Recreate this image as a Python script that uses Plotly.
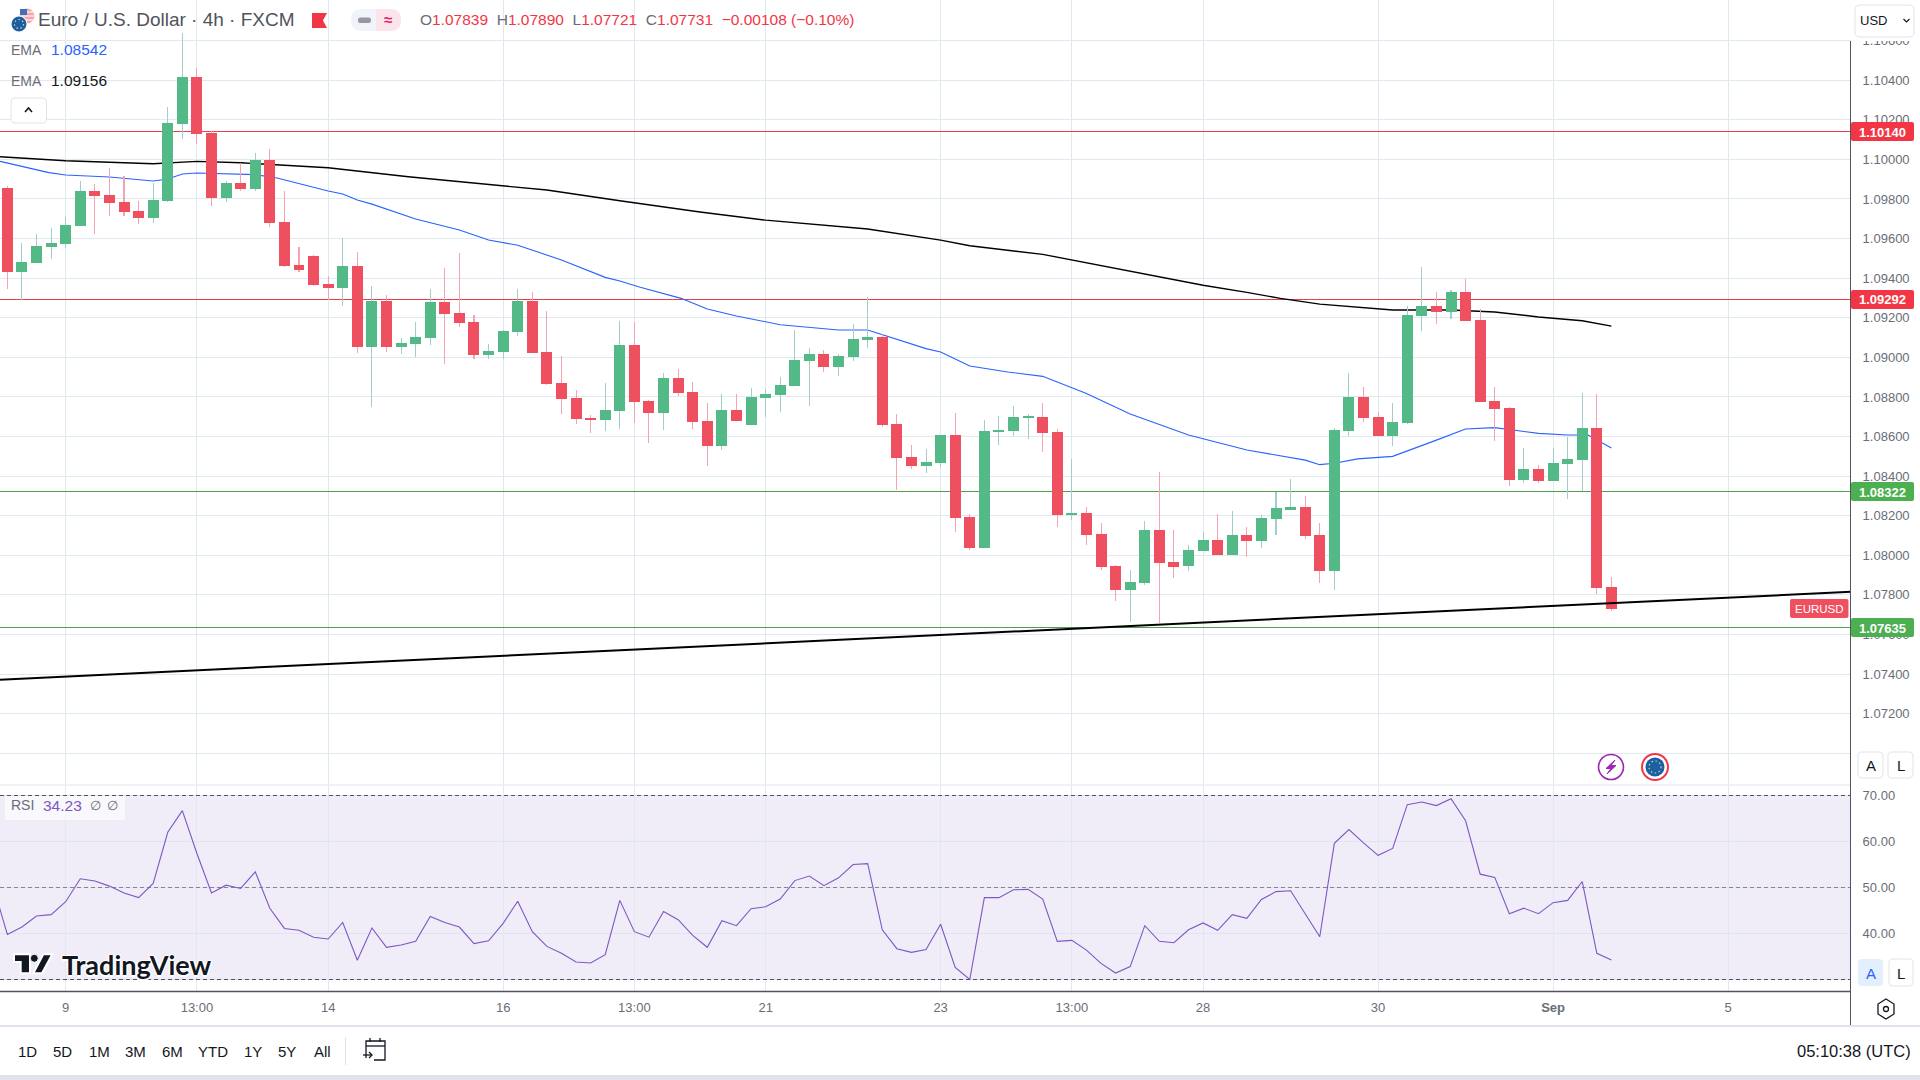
import plotly.graph_objects as go

W, H = 1920, 1080
FONT = "Liberation Sans"
RED, GREEN = "#ef5060", "#53b987"
WICK_RED, WICK_GREEN = "#f5a3b2", "#a3cdcd"
GRID = "#e0e9f0"
TXT = "#6a6d78"

opens = [1.09855,1.09431,1.09476,1.09557,1.09572,1.09663,1.09840,1.09820,1.09785,1.09739,
1.09704,1.09790,1.10178,1.10416,1.10133,1.09805,1.09880,1.09850,1.09997,1.09684,
1.09466,1.09512,1.09370,1.09350,1.09461,1.09052,1.09285,1.09052,1.09067,1.09098,
1.09279,1.09224,1.09178,1.09012,1.09027,1.09128,1.09285,1.09027,1.08870,1.08795,
1.08694,1.08684,1.08729,1.09062,1.08779,1.08719,1.08896,1.08825,1.08678,1.08552,
1.08734,1.08658,1.08795,1.08810,1.08855,1.08981,1.09017,1.08951,1.09002,1.09088,
1.09103,1.08663,1.08497,1.08451,1.08466,1.08608,1.08194,1.08037,1.08623,1.08628,
1.08694,1.08699,1.08623,1.08204,1.08214,1.08108,1.07946,1.07825,1.07860,1.08128,
1.07966,1.07946,1.08022,1.08077,1.08002,1.08103,1.08072,1.08184,1.08234,1.08244,
1.08103,1.07921,1.08628,1.08800,1.08699,1.08603,1.08668,1.09209,1.09259,1.09229,
1.09330,1.09189,1.08779,1.08744,1.08380,1.08436,1.08375,1.08461,1.08481,1.08643,1.07839]
highs = [1.09865,1.09577,1.09623,1.09653,1.09709,1.09891,1.09875,1.09956,1.09916,1.09790,
1.09880,1.10264,1.10636,1.10461,1.10143,1.09891,1.09981,1.10032,1.10052,1.09840,
1.09557,1.09517,1.09411,1.09603,1.09532,1.09360,1.09315,1.09098,1.09178,1.09345,
1.09451,1.09527,1.09214,1.09067,1.09138,1.09345,1.09330,1.09234,1.09007,1.08835,
1.08709,1.08870,1.09184,1.09178,1.08785,1.08921,1.08941,1.08875,1.08769,1.08815,
1.08815,1.08845,1.08840,1.08901,1.09138,1.09047,1.09037,1.09017,1.09168,1.09305,
1.09118,1.08714,1.08557,1.08537,1.08608,1.08719,1.08209,1.08684,1.08704,1.08754,
1.08714,1.08769,1.08638,1.08487,1.08244,1.08163,1.07951,1.07926,1.08173,1.08421,
1.08128,1.08052,1.08118,1.08209,1.08224,1.08143,1.08204,1.08320,1.08386,1.08300,
1.08163,1.08643,1.08921,1.08850,1.08724,1.08769,1.09259,1.09456,1.09330,1.09340,
1.09396,1.09244,1.08850,1.08749,1.08542,1.08456,1.08542,1.08598,1.08820,1.08815,1.07890]
lows = [1.09347,1.09290,1.09476,1.09497,1.09552,1.09663,1.09623,1.09714,1.09714,1.09673,
1.09678,1.09785,1.10103,1.10077,1.09764,1.09785,1.09840,1.09840,1.09658,1.09456,
1.09431,1.09360,1.09290,1.09259,1.09022,1.08749,1.09027,1.09017,1.09002,1.09062,
1.08966,1.09153,1.08992,1.08992,1.08992,1.09108,1.09022,1.08860,1.08714,1.08663,
1.08618,1.08628,1.08638,1.08668,1.08567,1.08633,1.08805,1.08638,1.08451,1.08532,
1.08678,1.08658,1.08699,1.08724,1.08855,1.08754,1.08926,1.08906,1.08981,1.09047,
1.08648,1.08330,1.08436,1.08416,1.08446,1.08118,1.08027,1.08037,1.08557,1.08603,
1.08588,1.08522,1.08143,1.08178,1.08052,1.07926,1.07769,1.07663,1.07850,1.07658,
1.07886,1.07921,1.08022,1.08002,1.08002,1.07992,1.08037,1.08103,1.08234,1.08083,
1.07860,1.07825,1.08603,1.08673,1.08603,1.08552,1.08663,1.09133,1.09168,1.09194,
1.09184,1.08774,1.08577,1.08350,1.08365,1.08365,1.08375,1.08285,1.08325,1.07805,1.07721]
closes = [1.09431,1.09481,1.09562,1.09577,1.09668,1.09840,1.09815,1.09779,1.09734,1.09704,
1.09795,1.10183,1.10416,1.10128,1.09805,1.09880,1.09850,1.09997,1.09678,1.09461,
1.09441,1.09365,1.09350,1.09461,1.09052,1.09285,1.09052,1.09072,1.09103,1.09279,
1.09219,1.09173,1.09012,1.09032,1.09133,1.09285,1.09022,1.08865,1.08790,1.08689,
1.08684,1.08734,1.09062,1.08774,1.08719,1.08896,1.08820,1.08673,1.08552,1.08734,
1.08678,1.08800,1.08815,1.08860,1.08987,1.09017,1.08951,1.09007,1.09093,1.09103,
1.08658,1.08492,1.08451,1.08471,1.08608,1.08189,1.08037,1.08628,1.08633,1.08699,
1.08699,1.08618,1.08204,1.08214,1.08103,1.07941,1.07825,1.07865,1.08128,1.07961,
1.07941,1.08027,1.08077,1.08002,1.08103,1.08072,1.08189,1.08239,1.08244,1.08098,
1.07921,1.08633,1.08800,1.08694,1.08603,1.08673,1.09214,1.09259,1.09229,1.09330,
1.09184,1.08774,1.08739,1.08380,1.08436,1.08375,1.08466,1.08487,1.08643,1.07835,1.07731]

ema_fast_bar = [-0.5,2.85,4,7,10,11,12,13,17,18.5,22,23,24,25,28,31,33,35,38,41,42,43.4,46.2,48,50,53,57,59,63,64,66,68.6,71,74,77,81,85,87.3,89,90,91,92.6,95,98,100,102,105,107,108.4,110]
ema_fast = [1.09990,1.09933,1.09921,1.09911,1.09891,1.09901,1.09926,1.09931,1.09923,1.09906,1.09840,1.09825,1.09795,1.09774,1.09699,1.09643,1.09593,1.09566,1.09492,1.09404,1.09386,1.09354,1.09298,1.09244,1.09209,1.09165,1.09138,1.09138,1.09044,1.09027,1.08956,1.08926,1.08904,1.08818,1.08714,1.08608,1.08532,1.08502,1.08481,1.08458,1.08465,1.08487,1.08500,1.08582,1.08638,1.08645,1.08616,1.08608,1.08608,1.08542]
ema_slow_bar = [-0.5,4,10,13,16,22,27.5,33,37,42,47.5,52,59,64,66,71,73,77.7,82,85,87.3,90,95,99,102,105,108,110]
ema_slow = [1.10013,1.09993,1.09978,1.09990,1.09983,1.09958,1.09912,1.09875,1.09845,1.09791,1.09734,1.09693,1.09648,1.09592,1.09564,1.09520,1.09491,1.09424,1.09364,1.09328,1.09298,1.09269,1.09239,1.09239,1.09229,1.09204,1.09185,1.09158]
rsi = [50.6,39.8,41.4,43.8,44.1,46.9,51.9,51.4,50.3,48.8,47.8,50.9,62.0,66.7,57.4,48.8,50.5,49.8,53.4,45.5,41.1,40.7,39.2,38.8,42.4,34.2,41.2,37.0,37.5,38.3,43.7,42.4,41.4,37.8,38.4,42.2,47.0,40.4,37.2,35.7,33.8,33.6,35.4,47.2,40.4,39.2,44.8,43.0,39.6,37.0,42.8,41.7,45.4,45.8,47.5,51.5,52.5,50.4,52.1,55.0,55.2,40.8,36.7,35.9,36.5,42.0,32.6,30.0,47.8,47.8,49.5,49.6,47.5,38.3,38.5,36.4,33.5,31.4,32.8,41.7,38.3,38.0,40.8,42.3,40.7,44.1,43.3,47.4,49.1,49.3,44.3,39.3,59.6,62.6,59.7,57.0,58.5,68.0,68.6,67.8,69.3,64.5,52.9,52.2,44.3,45.5,44.3,46.7,47.2,51.3,35.7,34.23]
rsi_levels = [70, 50, 30]
levels_red = [1.10140, 1.09292]
levels_green = [1.08322, 1.07635]
trend_values = [1.07372, 1.07816]
price_ticks = [1.108,1.106,1.104,1.102,1.100,1.098,1.096,1.094,1.092,1.090,1.088,1.086,1.084,1.082,1.080,1.078,1.076,1.074,1.072,1.070]
price_tick_labels = ["","1.10600","1.10400","1.10200","1.10000","1.09800","1.09600","1.09400","1.09200","1.09000","1.08800","1.08600","1.08400","1.08200","1.08000","1.07800","1.07600","1.07400","1.07200",""]
rsi_ticks = [70,60,50,40,30]
rsi_tick_labels = ["70.00","60.00","50.00","40.00",""]
time_ticks = [4,13,22,34,43,52,64,73,82,94,106,118]
time_labels = ["9","13:00","14","16","13:00","21","23","13:00","28","30","<b>Sep</b>","5"]

bars = list(range(len(opens)))
up = [i for i in bars if closes[i] >= opens[i]]
dn = [i for i in bars if closes[i] < opens[i]]
XR = [-0.504, 126.43]
XDOM = [0, 1851/W]
MAIN_DOM = [1-784/H, 1]
RSI_DOM = [1-991/H, 1-785/H]
YR = [1.06845, 1.10805]
RR = [27.5, 72.283]

fig = go.Figure()
for v in levels_red:
    fig.add_trace(go.Scatter(x=XR, y=[v, v], mode="lines", line=dict(color="#e5404e", width=1), xaxis="x", yaxis="y"))
for v in levels_green:
    fig.add_trace(go.Scatter(x=XR, y=[v, v], mode="lines", line=dict(color="#4f9f4f", width=1), xaxis="x", yaxis="y"))
fig.add_trace(go.Scatter(x=ema_slow_bar, y=ema_slow, mode="lines", line=dict(color="#000000", width=1.4), xaxis="x", yaxis="y"))
fig.add_trace(go.Scatter(x=ema_fast_bar, y=ema_fast, mode="lines", line=dict(color="#2962ff", width=1.1), xaxis="x", yaxis="y"))

def candle_bars(idx, wick, body):
    fig.add_trace(go.Bar(x=idx, y=[highs[i]-lows[i] for i in idx], base=[lows[i] for i in idx],
                         width=0.003, marker=dict(color=wick, line=dict(width=0)), xaxis="x3", yaxis="y3"))
    fig.add_trace(go.Bar(x=idx, y=[abs(closes[i]-opens[i]) for i in idx], base=[min(closes[i], opens[i]) for i in idx],
                         width=0.754, marker=dict(color=body, line=dict(width=0)), xaxis="x3", yaxis="y3"))
candle_bars(up, WICK_GREEN, GREEN)
candle_bars(dn, WICK_RED, RED)
fig.add_trace(go.Scatter(x=XR, y=trend_values, mode="lines", line=dict(color="#000000", width=2), xaxis="x3", yaxis="y3"))
for v, col in zip(rsi_levels, ["#50535e", "#85858f", "#50535e"]):
    fig.add_trace(go.Scatter(x=XR, y=[v, v], mode="lines", line=dict(color=col, width=1, dash="4px,3px"), xaxis="x2", yaxis="y2"))
fig.add_trace(go.Scatter(x=[-1]+bars, y=rsi, mode="lines", line=dict(color="#7e57c2", width=1.1), xaxis="x2", yaxis="y2"))

def px(x, y):
    return f"{x/W:.6f},{1-y/H:.6f}"
shapes = []
def path(d, fill="rgba(0,0,0,0)", line=None, lw=1, dash=None):
    l = dict(width=lw if line else 0, color=line or "rgba(0,0,0,0)")
    if dash: l["dash"] = dash
    shapes.append(dict(type="path", xref="paper", yref="paper", path=d, fillcolor=fill, line=l, layer="above"))
def rrect(x0, y0, x1, y1, r=0, fill="#fff", line=None, lw=1):
    if r == 0:
        d = f"M{px(x0,y0)} L{px(x1,y0)} L{px(x1,y1)} L{px(x0,y1)} Z"
    else:
        d = (f"M{px(x0+r,y0)} L{px(x1-r,y0)} Q{px(x1,y0)} {px(x1,y0+r)} L{px(x1,y1-r)} Q{px(x1,y1)} {px(x1-r,y1)} "
             f"L{px(x0+r,y1)} Q{px(x0,y1)} {px(x0,y1-r)} L{px(x0,y0+r)} Q{px(x0,y0)} {px(x0+r,y0)} Z")
    path(d, fill, line, lw)
def seg(pts, line="#131722", lw=1.2, fill="rgba(0,0,0,0)", close=False):
    d = "M" + " L".join(px(*p) for p in pts) + (" Z" if close else "")
    path(d, fill, line, lw)
def circle(cx, cy, r, fill="rgba(0,0,0,0)", line=None, lw=1, dash=None):
    l = dict(width=lw if line else 0, color=line or "rgba(0,0,0,0)")
    if dash: l["dash"] = dash
    shapes.append(dict(type="circle", xref="paper", yref="paper", x0=(cx-r)/W, x1=(cx+r)/W,
                       y0=1-(cy+r)/H, y1=1-(cy-r)/H, fillcolor=fill, line=l, layer="above"))

# RSI band
shapes.append(dict(type="rect", xref="x2", yref="y2", x0=XR[0], x1=XR[1], y0=30, y1=70,
                   fillcolor="rgba(126,87,194,0.11)", line=dict(width=0), layer="below"))

# chart frame
rrect(1851,0,W,41,fill="#ffffff")
seg([(0,785),(1851,785)], line="#e0e3eb", lw=1)
seg([(0,991.5),(1851,991.5)], line="#50535e", lw=1.5)
seg([(1850.5,41),(1850.5,1026)], line="#50535e", lw=1)
rrect(0,1025,W,1027,fill="#e0e3eb")
rrect(0,1075,W,1080,fill="#e0e3eb")

# price labels
for v, c in zip(levels_red+levels_green, ["#f23645","#f23645","#4caf50","#4caf50"]):
    yc = 357.3 + (1.09-v)/0.002*39.6
    rrect(1851, yc-9.5, 1914, yc+9.5, r=2, fill=c)
rrect(1790,599,1848.5,618,r=2,fill=RED)

# USD button and A/L buttons
rrect(1855,5,1914,37,r=5,fill="#ffffff",line="#e0e3eb")
seg([(1903.5,19),(1906.5,22),(1909.5,19)],line="#131722",lw=1.2)
rrect(1858,752,1883,778,r=4,fill="#fff",line="#e0e3eb")
rrect(1888,752,1913,778,r=4,fill="#fff",line="#e0e3eb")
rrect(1858,959,1883,986,r=4,fill="#e3effd")
rrect(1889,959,1913,986,r=4,fill="#fff",line="#e0e3eb")

# header icons
circle(27,16,7.5,fill="#f4a7ae")
for yy in (12,16,20):
    seg([(21,yy),(34,yy)],line="#ffffff",lw=1)
rrect(20,9,27,15,fill="#3f6fb5")
circle(19,24,8.5,fill="#ffffff")
circle(19,24,7.5,fill="#1b5fa8")
circle(19,24,4.5,line="#e8d44a",lw=1.2,dash="1.5px,2.5px")
path(f"M{px(312,13)} L{px(327,13)} L{px(323,20.5)} L{px(327,28)} L{px(312,28)} Z",fill="#f23645")
rrect(351,9,401,31,r=11,fill="#f0f3fa")
path(f"M{px(376,9)} L{px(390,9)} Q{px(401,9)} {px(401,20)} Q{px(401,31)} {px(390,31)} L{px(376,31)} Z",fill="#fce4ec")
rrect(358,17.5,371,23,r=2.5,fill="#9598a1")
rrect(11,98,46.5,123,r=4,fill="#ffffff",line="#e0e3eb")
seg([(25,112),(28.5,108),(32,112)],line="#131722",lw=1.6)

# news / earnings icons
circle(1611,767,12.5,fill="#ffffff",line="#9c27b0",lw=1.6)
seg([(1615,760),(1606,768.5),(1611,768.5),(1607,774),(1616,765.5),(1611,765.5)],line="#9c27b0",lw=1,fill="#9c27b0",close=True)
circle(1655,767,13,fill="#ffffff",line="#f23645",lw=2)
circle(1655,767,9.5,fill="#1b5fa8")
circle(1655,767,6,line="#e8d44a",lw=1.2,dash="1.5px,2.5px")

# RSI legend backdrop
rrect(5,796,125,820,fill="rgba(255,255,255,0.6)")

# watermark
seg([(14,954.3),(30,954.3),(30,973.3),(20.7,973.3),(20.7,962),(14,962)],line="#ffffff",lw=2,fill="#131722",close=True)
circle(34.3,958.3,4,fill="#131722",line="#ffffff",lw=1)
seg([(43.3,954.3),(52.3,954.3),(42,973.3),(33.3,973.3)],line="#ffffff",lw=2,fill="#131722",close=True)

# toolbar icons
rrect(345,1037,346,1065,fill="#e0e3eb")
seg([(366,1058),(366,1041),(385,1041),(385,1060),(374,1060)],lw=1.3)
seg([(366,1046),(385,1046)],lw=1.3)
seg([(370,1038),(370,1042)],lw=1.3); seg([(380,1038),(380,1042)],lw=1.3)
seg([(363,1055),(372,1055)],lw=1.3); seg([(369,1052),(372,1055),(369,1058)],lw=1.3)
seg([(1886,999),(1894,1004),(1894,1014),(1886,1019),(1878,1014),(1878,1004)],lw=1.3,close=True)
circle(1886,1009,2.5,line="#131722",lw=1.3)

ann = []
def note(x, y, t, size=13, color=TXT, anchor="left", family=FONT, shadow=None):
    f = dict(family=family, size=size, color=color)
    if shadow: f["shadow"] = shadow
    ann.append(dict(xref="paper", yref="paper", x=(x-2 if anchor=="left" else x)/W, y=1-y/H, text=t, showarrow=False, xanchor=anchor,
                    yanchor="middle", align=anchor, font=f))
note(38,20,"Euro / U.S. Dollar · 4h · FXCM",19,"#50535e")
R="#f23645"
ohlc = ("O<span style='color:%s'>1.07839</span>  H<span style='color:%s'>1.07890</span>  L<span style='color:%s'>1.07721</span>  "
        "C<span style='color:%s'>1.07731</span>  <span style='color:%s'>−0.00108 (−0.10%%)</span>") % (R,R,R,R,R)
note(420,20,ohlc,15.5,"#6a6d78")
note(388,20,"<b>≈</b>",15,"#e91e63",anchor="center")
note(11,50,"EMA",14,"#6a6d78")
note(51,50,"1.08542",15.5,"#2962ff")
note(11,81,"EMA",14,"#6a6d78")
note(51,81,"1.09156",15.5,"#131722")
note(11,805,"RSI",14,"#6a6d78")
note(43,805,"34.23",15.5,"#7e57c2")
note(90,805,"∅",13,"#6a6d78")
note(107,805,"∅",13,"#6a6d78")
halo = "-1.5px 0 0 #fff,1.5px 0 0 #fff,0 -1.5px 0 #fff,0 1.5px 0 #fff"
note(62,964,"<b>TradingView</b>",27,"#131722",family="Lato",shadow=halo)
for v, c in zip(levels_red+levels_green, ["#f23645","#f23645","#4caf50","#4caf50"]):
    yc = 357.3 + (1.09-v)/0.002*39.6
    note(1882.5,yc+0.5,f"<b>{v:.5f}</b>",13,"#ffffff",anchor="center")
note(1819,608.5,"EURUSD",11.5,"#ffffff",anchor="center")
note(1860,20.5,"USD",13,"#131722")
note(1870.5,765,"A",15,"#131722",anchor="center")
note(1900.5,765,"L",15,"#131722",anchor="center")
note(1870.5,973,"A",15,"#2962ff",anchor="center")
note(1901,973,"L",15,"#131722",anchor="center")
for x, t in zip([27.5,62.5,99,135,172,212.5,253,287,322],["1D","5D","1M","3M","6M","YTD","1Y","5Y","All"]):
    note(x,1051,t,15,"#131722",anchor="center")
note(1913,1051,"05:10:38 (UTC)",16.5,"#131722",anchor="right")

tick_font = dict(family=FONT, size=13, color=TXT)
fig.update_layout(
    width=W, height=H, autosize=False, margin=dict(l=0,r=0,t=0,b=0), showlegend=False,
    paper_bgcolor="#ffffff", plot_bgcolor="#ffffff", barmode="overlay", hovermode=False, bargap=0,
    shapes=shapes, annotations=ann,
    xaxis=dict(domain=XDOM, range=XR, anchor="y", tickvals=time_ticks, ticktext=[""]*len(time_ticks), showticklabels=False,
               showgrid=True, gridcolor=GRID, gridwidth=1, zeroline=False, ticks=""),
    yaxis=dict(domain=MAIN_DOM, range=YR, anchor="x", side="right", tickvals=price_ticks, ticktext=price_tick_labels,
               showgrid=True, gridcolor=GRID, gridwidth=1, zeroline=False, ticks="outside", ticklen=8,
               tickcolor="rgba(0,0,0,0)", tickfont=tick_font, showline=False),
    xaxis2=dict(domain=XDOM, range=XR, anchor="y2", tickvals=time_ticks, ticktext=time_labels,
                showgrid=True, gridcolor=GRID, gridwidth=1, zeroline=False, ticks="outside", ticklen=4.5,
                tickcolor="rgba(0,0,0,0)", tickfont=tick_font, showline=False),
    yaxis2=dict(domain=RSI_DOM, range=RR, anchor="x2", side="right", tickvals=rsi_ticks, ticktext=rsi_tick_labels,
                showgrid=True, gridcolor="#e0e3f0", gridwidth=1, zeroline=False, ticks="outside", ticklen=8,
                tickcolor="rgba(0,0,0,0)", tickfont=tick_font, showline=False),
    xaxis3=dict(domain=XDOM, range=XR, anchor="y3", overlaying="x", visible=False),
    yaxis3=dict(domain=MAIN_DOM, range=YR, anchor="x3", overlaying="y", visible=False),
)
crisp = ("document.body.style.margin='0';document.body.style.overflow='hidden';"
         "Array.from(document.querySelectorAll('.subplot.xy .scatterlayer .trace')).slice(0,4)"
         ".forEach(function(t){t.querySelectorAll('path').forEach(function(p){p.style.shapeRendering='crispEdges';});});"
         "Array.from(document.querySelectorAll('.subplot.x2y2 .scatterlayer .trace')).slice(0,3)"
         ".forEach(function(t){t.querySelectorAll('path').forEach(function(p){p.style.shapeRendering='crispEdges';});});")
fig.write_html("out.html", config=dict(displayModeBar=False), post_script=crisp)
